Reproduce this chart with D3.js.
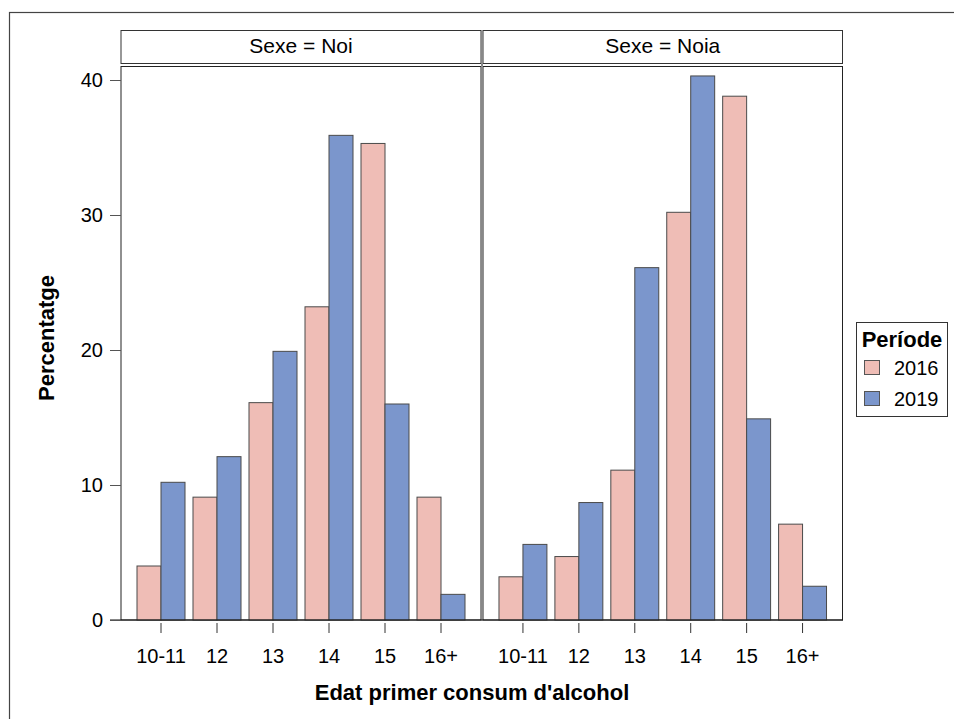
<!DOCTYPE html>
<html><head><meta charset="utf-8">
<script src="https://cdn.jsdelivr.net/npm/d3@7/dist/d3.min.js"></script>
<style>body{margin:0;background:#fff}svg{display:block}text{font-family:"Liberation Sans",Arial,sans-serif;fill:#000}</style>
</head><body><svg id="c" width="954" height="719"></svg>
<script>
const categories=["10-11","12","13","14","15","16+"];
const panelNames=["Sexe = Noi","Sexe = Noia"];
const periods=["2016","2019"];
const noi2016=[4.0,9.1,16.1,23.2,35.3,9.1];
const noi2019=[10.2,12.1,19.9,35.9,16.0,1.9];
const noia2016=[3.2,4.7,11.1,30.2,38.8,7.1];
const noia2019=[5.6,8.7,26.1,40.3,14.9,2.5];
const yTicks=[0,10,20,30,40];
const colors=["#EFBDB6","#7B96CC"];

const panelData=[[noi2016,noi2019],[noia2016,noia2019]];
const svg=d3.select("#c");
const plotTop=66.5, plotBottom=620, headTop=30.5, headBottom=63.5;
const panelX=[[121,481],[483,842.5]];
const FF="'Liberation Sans',Arial,sans-serif";

// outer border
svg.append("rect").attr("x",9.5).attr("y",12.5).attr("width",960).attr("height",720)
  .attr("fill","none").attr("stroke","#444").attr("stroke-width",1.2);

const y=d3.scaleLinear().domain([0,41]).range([plotBottom,plotTop]);
const color=d3.scaleOrdinal().domain(periods).range(colors);

panelX.forEach((px,pi)=>{
  const g=svg.append("g");
  const x=d3.scaleBand().domain(categories).range(px).paddingInner(8/56).paddingOuter(16/56);
  const xs=d3.scaleBand().domain(periods).range([0,x.bandwidth()]);
  // header
  g.append("rect").attr("x",px[0]).attr("y",headTop).attr("width",px[1]-px[0]).attr("height",headBottom-headTop)
    .attr("fill","#fff").attr("stroke","#333").attr("stroke-width",1);
  g.append("text").attr("x",(px[0]+px[1])/2).attr("y",53).attr("text-anchor","middle")
    .style("font-size","21px").text(panelNames[pi]);
  // plot frame
  g.append("rect").attr("x",px[0]).attr("y",plotTop).attr("width",px[1]-px[0]).attr("height",plotBottom-plotTop)
    .attr("fill","#fff").attr("stroke","#222").attr("stroke-width",1);
  // bars
  periods.forEach((p,si)=>{
    g.selectAll(null).data(panelData[pi][si]).enter().append("rect")
      .attr("x",(d,i)=>x(categories[i])+xs(p))
      .attr("y",d=>y(d))
      .attr("width",xs.bandwidth())
      .attr("height",d=>y(0)-y(d))
      .attr("fill",color(p)).attr("stroke","#4a4a4a").attr("stroke-width",1);
  });
  // x axis
  const xa=g.append("g").attr("transform",`translate(0,${plotBottom+3})`)
    .call(d3.axisBottom(x).tickSize(10).tickPadding(16));
  xa.select(".domain").remove();
  xa.selectAll(".tick line").attr("stroke","#333");
  xa.selectAll(".tick text").style("font-size","20px").style("font-family",FF);
});
// separators
svg.append("line").attr("x1",482).attr("x2",482).attr("y1",headTop).attr("y2",plotBottom).attr("stroke","#888").attr("stroke-width",2);
svg.append("line").attr("x1",110).attr("x2",843).attr("y1",plotBottom).attr("y2",plotBottom).attr("stroke","#111").attr("stroke-width",1.2);

// y axis
const ya=svg.append("g").attr("transform",`translate(121,0)`)
  .call(d3.axisLeft(y).tickValues(yTicks).tickSize(11).tickPadding(7));
ya.select(".domain").remove();
ya.selectAll(".tick line").attr("stroke","#555");
ya.selectAll(".tick text").style("font-size","20px").style("font-family",FF);

// axis titles
svg.append("text").attr("transform","translate(54,338) rotate(-90)").attr("text-anchor","middle")
  .style("font-size","22px").style("font-weight","bold").text("Percentatge");
svg.append("text").attr("x",472).attr("y",700).attr("text-anchor","middle")
  .style("font-size","22px").style("font-weight","bold").text("Edat primer consum d'alcohol");

// legend
const lg=svg.append("g");
lg.append("rect").attr("x",856.5).attr("y",322.5).attr("width",91).attr("height",94)
  .attr("fill","#fff").attr("stroke","#333").attr("stroke-width",1);
lg.append("text").attr("x",902).attr("y",347).attr("text-anchor","middle")
  .style("font-size","22px").style("font-weight","bold").text("Període");
periods.forEach((p,i)=>{
  const yy=360+i*31;
  lg.append("rect").attr("x",864.5).attr("y",yy+0.5).attr("width",15).attr("height",14)
    .attr("fill",color(p)).attr("stroke","#555");
  lg.append("text").attr("x",894).attr("y",yy+15).style("font-size","20px").text(p);
});
</script></body></html>
